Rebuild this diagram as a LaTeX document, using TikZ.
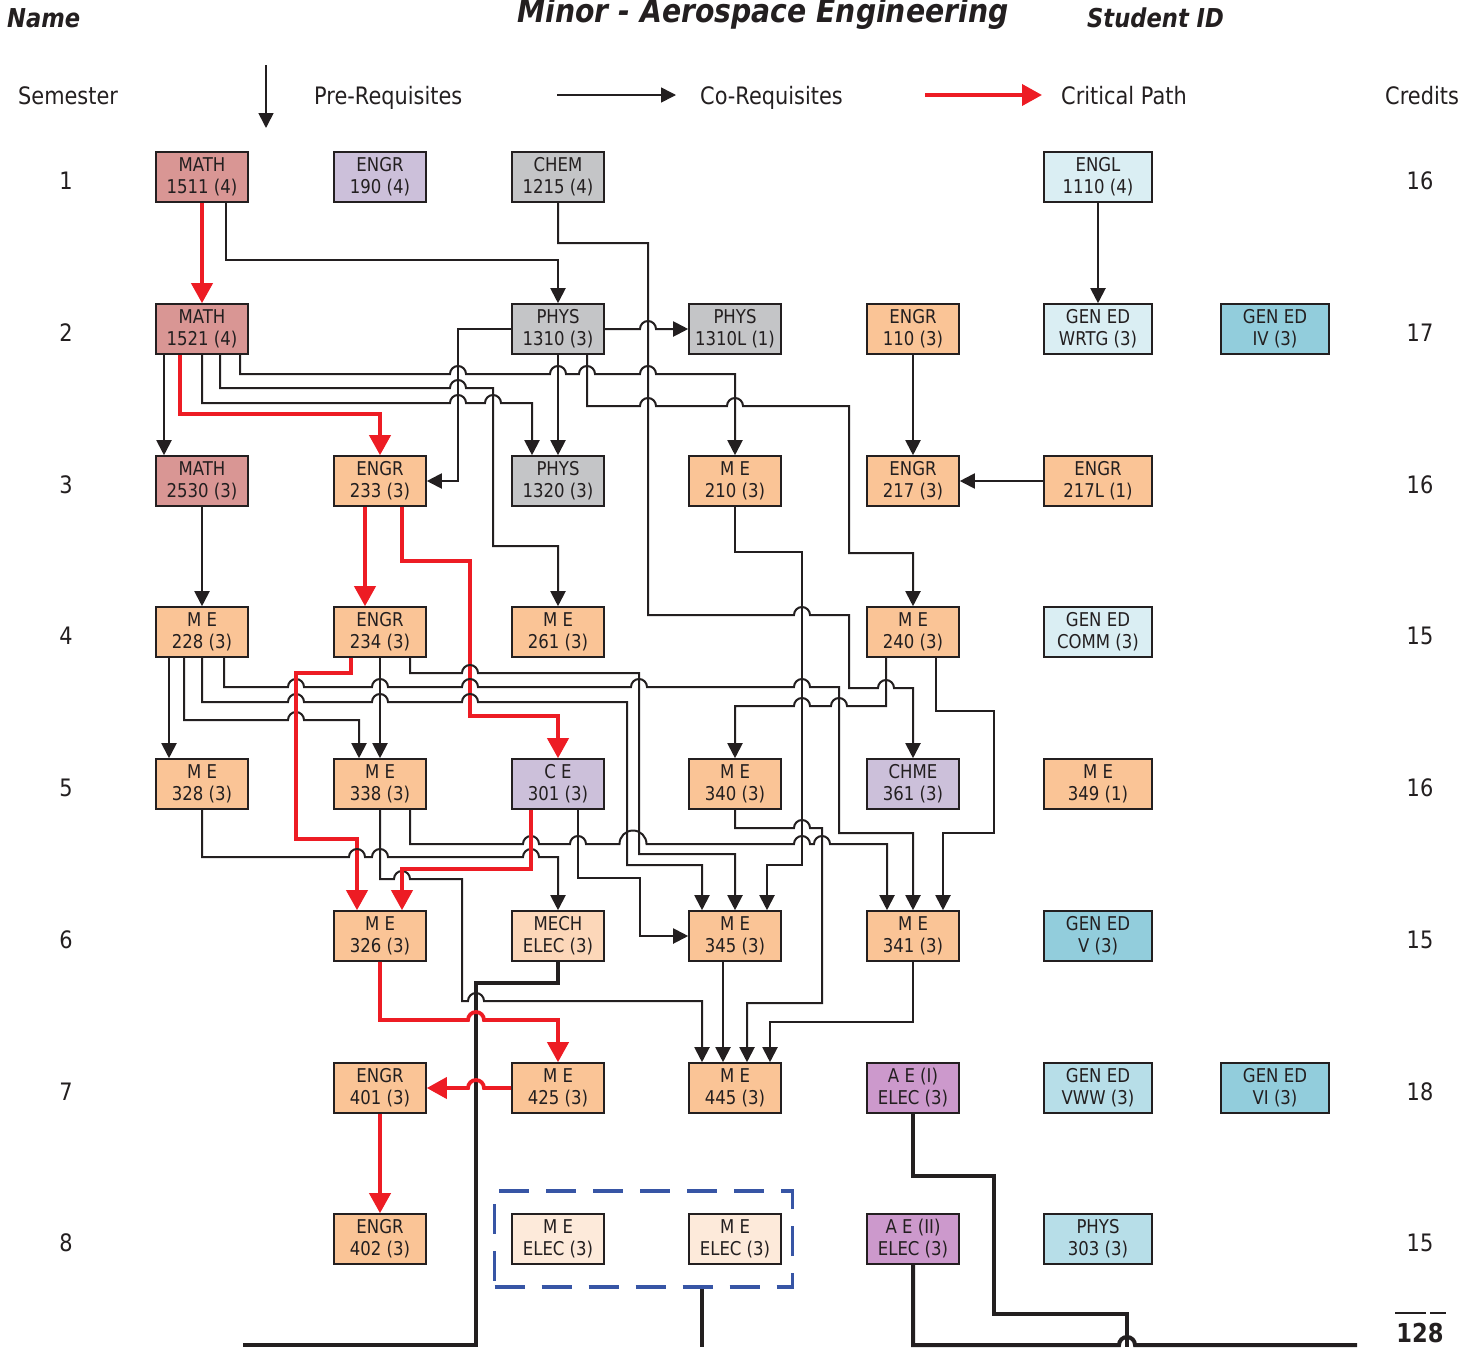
\documentclass[tikz,border=0pt]{standalone}
\usepackage{fontspec}
\setmainfont{DejaVu Sans}[FakeStretch=0.87]
\usetikzlibrary{arrows.meta}
\definecolor{lc}{RGB}{35,31,32}
\definecolor{rc}{RGB}{237,28,36}
\definecolor{cmath}{RGB}{217,150,148}
\definecolor{clav}{RGB}{204,192,218}
\definecolor{cgray}{RGB}{196,197,199}
\definecolor{cor}{RGB}{250,196,150}
\definecolor{cltc}{RGB}{218,238,243}
\definecolor{cgen}{RGB}{146,205,220}
\definecolor{clb}{RGB}{183,222,232}
\definecolor{cmech}{RGB}{252,215,185}
\definecolor{cmee}{RGB}{253,234,218}
\definecolor{cae}{RGB}{204,153,204}
\definecolor{cdash}{RGB}{55,85,165}
\newcommand\boxfont{\fontsize{19}{22}\selectfont}
\newcommand\lgfont{\fontsize{24}{28}\selectfont}
\newcommand\hdfont{\fontsize{26}{30}\selectfont\bfseries\itshape}
\newcommand\ttlfont{\fontsize{32.5}{36}\selectfont\bfseries\itshape}
\tikzset{
 crs/.style={draw=lc, line width=1.6pt, minimum width=92pt, minimum height=50pt, inner sep=0pt, align=center, font=\boxfont, text=lc},
 widebox/.style={minimum width=108pt},
 lg/.style={font=\lgfont, text=lc, inner sep=0pt},
 con/.style={draw=lc, line width=2pt, -{Triangle[length=15pt,width=15pt]}},
 crit/.style={draw=rc, line width=3.8pt, -{Triangle[length=20pt,width=21pt]}},
 thk/.style={draw=lc, line width=4pt},
 hr/.style 2 args={insert path={-- ({#1-8},#2) arc[start angle=180,end angle=0,radius=8pt]}},
 hl/.style 2 args={insert path={-- ({#1+8},#2) arc[start angle=0,end angle=180,radius=8pt]}},
}
\begin{document}
\begin{tikzpicture}[x=1pt,y=-1pt]
\useasboundingbox (0,0) rectangle (1478,1347);
\fill[white] (0,0) rectangle (1478,1347);
% header
\node[anchor=base west, font=\hdfont, text=lc, inner sep=0pt] (name) at (7,27) {Name};
\node[anchor=base, font=\ttlfont, text=lc, inner sep=0pt] (title) at (763,22) {Minor - Aerospace Engineering};
\node[anchor=base west, font=\hdfont, text=lc, inner sep=0pt] (sid) at (1087,27) {Student ID};
\node[lg, anchor=base west] (sem) at (18,104) {Semester};
\node[lg, anchor=base west] (prl) at (314,104) {Pre-Requisites};
\node[lg, anchor=base west] (col) at (700,104) {Co-Requisites};
\node[lg, anchor=base west] (cpl) at (1061,104) {Critical Path};
\node[lg, anchor=base west] (crl) at (1385,104) {Credits};
\coordinate (pra) at (266,65); \coordinate (prb) at (266,128);
\draw[con, line width=1.6pt] (pra) -- (prb);
\coordinate (coa) at (557,95); \coordinate (cob) at (676,95);
\draw[con, line width=1.6pt] (coa) -- (cob);
\coordinate (cpa) at (925,95); \coordinate (cpb) at (1042,95);
\draw[crit] (cpa) -- (cpb);
\foreach \r/\y/\c in {1/177/16,2/329/17,3/481/16,4/632/15,5/784/16,6/936/15,7/1088/18,8/1239/15}{
  \node[lg] (s\r) at (66,\y+4) {\r};
  \node[lg] (cr\r) at (1420,\y+4) {\c};
}
\node[font=\fontsize{26}{30}\selectfont\bfseries, text=lc, inner sep=0pt] (tot) at (1420,1333) {128};
\draw[lc, line width=2pt] (1395,1313) -- (1426,1313) (1430,1313) -- (1446,1313);
% boxes
\node[crs,fill=cmath] (m1511) at (202,177) {MATH\\1511 (4)};
\node[crs,fill=clav] (e190) at (380,177) {ENGR\\190 (4)};
\node[crs,fill=cgray] (c1215) at (558,177) {CHEM\\1215 (4)};
\node[crs,widebox,fill=cltc] (l1110) at (1098,177) {ENGL\\1110 (4)};
\node[crs,fill=cmath] (m1521) at (202,329) {MATH\\1521 (4)};
\node[crs,fill=cgray] (p1310) at (558,329) {PHYS\\1310 (3)};
\node[crs,fill=cgray] (p1310l) at (735,329) {PHYS\\1310L (1)};
\node[crs,fill=cor] (e110) at (913,329) {ENGR\\110 (3)};
\node[crs,widebox,fill=cltc] (gwrtg) at (1098,329) {GEN ED\\WRTG (3)};
\node[crs,widebox,fill=cgen] (giv) at (1275,329) {GEN ED\\IV (3)};
\node[crs,fill=cmath] (m2530) at (202,481) {MATH\\2530 (3)};
\node[crs,fill=cor] (e233) at (380,481) {ENGR\\233 (3)};
\node[crs,fill=cgray] (p1320) at (558,481) {PHYS\\1320 (3)};
\node[crs,fill=cor] (me210) at (735,481) {M E\\210 (3)};
\node[crs,fill=cor] (e217) at (913,481) {ENGR\\217 (3)};
\node[crs,widebox,fill=cor] (e217l) at (1098,481) {ENGR\\217L (1)};
\node[crs,fill=cor] (me228) at (202,632) {M E\\228 (3)};
\node[crs,fill=cor] (e234) at (380,632) {ENGR\\234 (3)};
\node[crs,fill=cor] (me261) at (558,632) {M E\\261 (3)};
\node[crs,fill=cor] (me240) at (913,632) {M E\\240 (3)};
\node[crs,widebox,fill=cltc] (gcomm) at (1098,632) {GEN ED\\COMM (3)};
\node[crs,fill=cor] (me328) at (202,784) {M E\\328 (3)};
\node[crs,fill=cor] (me338) at (380,784) {M E\\338 (3)};
\node[crs,fill=clav] (ce301) at (558,784) {C E\\301 (3)};
\node[crs,fill=cor] (me340) at (735,784) {M E\\340 (3)};
\node[crs,fill=clav] (chme361) at (913,784) {CHME\\361 (3)};
\node[crs,widebox,fill=cor] (me349) at (1098,784) {M E\\349 (1)};
\node[crs,fill=cor] (me326) at (380,936) {M E\\326 (3)};
\node[crs,fill=cmech] (mech) at (558,936) {MECH\\ELEC (3)};
\node[crs,fill=cor] (me345) at (735,936) {M E\\345 (3)};
\node[crs,fill=cor] (me341) at (913,936) {M E\\341 (3)};
\node[crs,widebox,fill=cgen] (gv) at (1098,936) {GEN ED\\V (3)};
\node[crs,fill=cor] (e401) at (380,1088) {ENGR\\401 (3)};
\node[crs,fill=cor] (me425) at (558,1088) {M E\\425 (3)};
\node[crs,fill=cor] (me445) at (735,1088) {M E\\445 (3)};
\node[crs,fill=cae] (ae1) at (913,1088) {A E (I)\\ELEC (3)};
\node[crs,widebox,fill=clb] (gvww) at (1098,1088) {GEN ED\\VWW (3)};
\node[crs,widebox,fill=cgen] (gvi) at (1275,1088) {GEN ED\\VI (3)};
\node[crs,fill=cor] (e402) at (380,1239) {ENGR\\402 (3)};
\node[crs,fill=cmee] (mee1) at (558,1239) {M E\\ELEC (3)};
\node[crs,fill=cmee] (mee2) at (735,1239) {M E\\ELEC (3)};
\node[crs,fill=cae] (ae2) at (913,1239) {A E (II)\\ELEC (3)};
\node[crs,widebox,fill=clb] (p303) at (1098,1239) {PHYS\\303 (3)};
\node[draw=cdash, line width=3.5pt, dash pattern=on 30pt off 17pt, minimum width=298pt, minimum height=96pt, inner sep=0pt] (ebox) at (643.5,1239) {};
% connectors
\draw[crit] (m1511.south) -- (m1521.north);
\draw[con] ([xshift=24pt]m1511.south) -- (226,260) -- (558,260) -- (p1310.north);
\draw[con] (c1215.south) -- (558,243) -- (648,243) -- (648,615) [hr={802}{615}] -- (849,615) -- (849,688) [hr={886}{688}] -- (913,688) -- (chme361.north);
\draw[con] (l1110.south) -- (gwrtg.north);
\draw[con] (p1310.east) [hr={648}{329}] -- (p1310l.west);
\draw[con] (p1310.west) -- (458,329) -- (458,481) -- (e233.east);
\draw[con] (p1310.south) -- (p1320.north);
\draw[con] ([xshift=29pt]p1310.south) -- (587,406) [hr={648}{406}] [hr={735}{406}] -- (849,406) -- (849,553) -- (913,553) -- (me240.north);
\draw[con] (e110.south) -- (e217.north);
\draw[con] (e217l.west) -- (e217.east);
\draw[con] ([xshift=-38pt]m1521.south) -- ([xshift=-38pt]m2530.north);
\draw[crit] ([xshift=-22pt]m1521.south) -- (180,414) -- (380,414) -- (e233.north);
\draw[con] (m1521.south) -- (202,403) [hr={458}{403}] [hr={493}{403}] -- (532,403) -- ([xshift=-26pt]p1320.north);
\draw[con] ([xshift=18pt]m1521.south) -- (220,388) [hr={458}{388}] -- (493,388) -- (493,546) -- (558,546) -- (me261.north);
\draw[con] ([xshift=38pt]m1521.south) -- (240,374) [hr={458}{374}] [hr={558}{374}] [hr={587}{374}] [hr={648}{374}] -- (735,374) -- (me210.north);
\draw[con] (m2530.south) -- (me228.north);
\draw[crit] ([xshift=-15pt]e233.south) -- ([xshift=-15pt]e234.north);
\draw[crit] ([xshift=22pt]e233.south) -- (402,561) -- (470,561) -- (470,716) -- (558,716) -- (ce301.north);
\draw[con] (me210.south) -- (735,552) -- (802,552) -- (802,865) -- (767,865) -- ([xshift=32pt]me345.north);
\draw[con] ([xshift=-33pt]me228.south) -- ([xshift=-33pt]me328.north);
\draw[con] ([xshift=-18pt]me228.south) -- (184,720) [hr={296}{720}] -- (359,720) -- ([xshift=-21pt]me338.north);
\draw[con] (me228.south) -- (202,702) [hr={296}{702}] [hr={380}{702}] [hr={470}{702}] -- (627,702) -- (627,865) -- (702,865) -- ([xshift=-33pt]me345.north);
\draw[con] ([xshift=22pt]me228.south) -- (224,687) [hr={296}{687}] [hr={380}{687}] [hr={470}{687}] [hr={639}{687}] [hr={802}{687}] -- (839,687) -- (839,833) -- (913,833) -- (me341.north);
\draw[crit] ([xshift=-29pt]e234.south) -- (351,673) -- (296,673) -- (296,839) -- (357,839) -- ([xshift=-23pt]me326.north);
\draw[con] (e234.south) -- (me338.north);
\draw[con] ([xshift=30pt]e234.south) -- (410,673) [hr={470}{673}] -- (639,673) -- (639,854) -- (735,854) -- (me345.north);
\draw[con] ([xshift=-27pt]me240.south) -- (886,706) [hl={839}{706}] [hl={802}{706}] -- (735,706) -- (me340.north);
\draw[con] ([xshift=23pt]me240.south) -- (936,711) -- (994,711) -- (994,833) -- (943,833) -- ([xshift=30pt]me341.north);
\draw[con] (me328.south) -- (202,857) [hr={357}{857}] [hr={380}{857}] [hr={531}{857}] -- (558,857) -- (mech.north);
\draw[con] (me338.south) -- (380,879) [hr={402}{879}] -- (462,879) -- (462,1001) [hr={476}{1001}] -- (702,1001) -- ([xshift=-33pt]me445.north);
\draw[con] ([xshift=30pt]me338.south) -- (410,844) [hr={531}{844}] [hr={578}{844}] -- (619.5,844) arc[start angle=180,end angle=0,radius=13.5pt] [hr={802}{844}] [hr={822}{844}] -- (887,844) -- ([xshift=-26pt]me341.north);
\draw[crit] ([xshift=-27pt]ce301.south) -- (531,869) -- (402,869) -- ([xshift=22pt]me326.north);
\draw[con] ([xshift=20pt]ce301.south) -- (578,878) -- (640,878) -- (640,936) -- (me345.west);
\draw[con] (me340.south) -- (735,828) [hr={802}{828}] -- (822,828) -- (822,1003) -- (747,1003) -- ([xshift=12pt]me445.north);
\coordinate (lend) at (243,1345);
\draw[thk] (mech.south) -- (558,983) -- (476,983) -- (476,1345) -- (lend);
\draw[crit] (me326.south) -- (380,1020) [hr={476}{1020}] -- (558,1020) -- (me425.north);
\draw[crit] (me425.west) [hl={476}{1088}] -- (e401.east);
\draw[crit] (e401.south) -- (e402.north);
\draw[con] ([xshift=-12pt]me345.south) -- ([xshift=-12pt]me445.north);
\draw[con] (me341.south) -- (913,1022) -- (770,1022) -- ([xshift=35pt]me445.north);
\draw[thk] (ae1.south) -- (913,1176) -- (994,1176) -- (994,1314) -- (1127,1314) -- (1127,1347);
\coordinate (rend) at (1357,1345);
\draw[thk] (ae2.south) -- (913,1345) [hr={1127}{1345}] -- (rend);
\coordinate (dend) at (702,1347);
\draw[thk] ([xshift=58.5pt]ebox.south) -- (dend);
\end{tikzpicture}
\end{document}
